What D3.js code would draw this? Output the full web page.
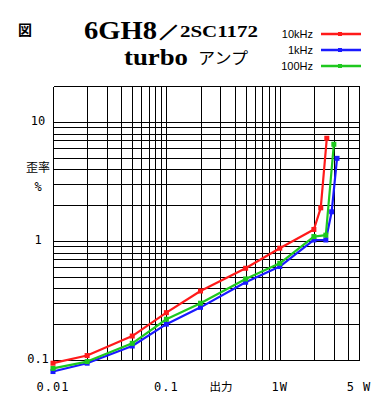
<!DOCTYPE html>
<html><head><meta charset="utf-8">
<script src="https://cdn.jsdelivr.net/npm/d3@7"></script>
<style>html,body{margin:0;padding:0;background:#fff;}svg{display:block;}</style>
</head><body>
<script>
// ---- data ----
const seriesNames = ["10kHz", "1kHz", "100Hz"];
const seriesColors = ["#ff1a1a", "#1a1aff", "#1ec81e"];
const x10k = [0.01, 0.02, 0.05, 0.1, 0.2, 0.5, 1, 2, 2.3, 2.6];
const y10k = [0.094, 0.109, 0.159, 0.25, 0.38, 0.59, 0.87, 1.25, 1.9, 7.3];
const x1k = [0.01, 0.02, 0.05, 0.1, 0.2, 0.5, 1, 2, 2.55, 2.87, 3.2];
const y1k = [0.08, 0.094, 0.131, 0.2, 0.277, 0.45, 0.61, 1.02, 1.02, 1.76, 4.95];
const x100 = [0.01, 0.02, 0.05, 0.1, 0.2, 0.5, 1, 2, 2.55, 3.0];
const y100 = [0.085, 0.097, 0.138, 0.22, 0.30, 0.48, 0.65, 1.09, 1.12, 6.5];
const xGrid = [0.01,0.02,0.03,0.04,0.05,0.06,0.07,0.08,0.09,0.1,0.2,0.3,0.4,0.5,0.6,0.7,0.8,0.9,1,2,3,4,5];
const yGrid = [0.1,0.2,0.3,0.4,0.5,0.6,0.7,0.8,0.9,1,2,3,4,5,6,7,8,9,10];
const xTickVals = [0.01, 0.1, 1, 5];
const xTickLabels = ["0.01", "0.1", "1W", "5 W"];
const yTickVals = [0.1, 1, 10];
const yTickLabels = ["0.1", "1", "10"];
const yTop = 20;

const W = 380, H = 400;
const svg = d3.select("body").append("svg").attr("width", W).attr("height", H);
const x = d3.scaleLog().domain([0.01, 5]).range([53, 359]);
const y = d3.scaleLog().domain([0.1, 10]).range([360, 122]);

// grid
const g = svg.append("g").attr("shape-rendering", "crispEdges").attr("stroke", "#000").attr("stroke-width", 1);
g.selectAll("line.v").data(xGrid).join("line")
  .attr("x1", d => Math.round(x(d)) + 0.5).attr("x2", d => Math.round(x(d)) + 0.5)
  .attr("y1", Math.round(y(yTop)) + 0.5).attr("y2", Math.round(y(0.1)) + 0.5);
g.selectAll("line.h").data(yGrid.concat([yTop])).join("line")
  .attr("y1", d => Math.round(y(d)) + 0.5).attr("y2", d => Math.round(y(d)) + 0.5)
  .attr("x1", Math.round(x(0.01)) + 0.5).attr("x2", Math.round(x(5)) + 0.5);

// series
const series = [
  {name: seriesNames[1], color: seriesColors[1], xs: x1k, ys: y1k},
  {name: seriesNames[2], color: seriesColors[2], xs: x100, ys: y100},
  {name: seriesNames[0], color: seriesColors[0], xs: x10k, ys: y10k}
];
const line = d3.line().x(d => x(d[0])).y(d => y(d[1]));
series.forEach(s => {
  const pts = s.xs.map((v, i) => [v, s.ys[i]]);
  svg.append("path").attr("d", line(pts)).attr("fill", "none")
    .attr("stroke", s.color).attr("stroke-width", 2.2).attr("stroke-linejoin", "round");
  svg.selectAll(null).data(pts).join("rect")
    .attr("x", d => x(d[0]) - 2.5).attr("y", d => y(d[1]) - 2.5)
    .attr("width", 5).attr("height", 5).attr("fill", s.color);
});

// axis labels
const mono = "'DejaVu Sans Mono', 'Liberation Mono', monospace";
svg.selectAll("text.xt").data(xTickVals).join("text")
  .attr("x", d => x(d)).attr("y", 391).attr("text-anchor", "middle")
  .attr("font-family", mono).attr("font-size", 12).attr("letter-spacing", 1)
  .text((d, i) => xTickLabels[i]);
svg.append("text").attr("x", 221).attr("y", 391).attr("text-anchor", "middle")
  .attr("font-family", "'Noto Sans CJK JP', sans-serif").attr("font-size", 11.5).text("出力");
svg.selectAll("text.yt").data(yTickVals).join("text")
  .attr("x", 38).attr("y", d => y(d) - 1).attr("dy", "0.35em").attr("text-anchor", "middle")
  .attr("font-family", mono).attr("font-size", 12)
  .text((d, i) => yTickLabels[i]);
svg.append("text").attr("x", 38).attr("y", 172).attr("text-anchor", "middle")
  .attr("font-family", "'Noto Sans CJK JP', sans-serif").attr("font-size", 12).text("歪率");
svg.append("text").attr("x", 38).attr("y", 191).attr("text-anchor", "middle")
  .attr("font-family", mono).attr("font-size", 12).text("%");

// title
svg.append("text").attr("x", 18).attr("y", 35)
  .attr("font-family", "'Noto Sans CJK JP', sans-serif").attr("font-weight", "bold").attr("font-size", 14).text("図");
svg.append("text").attr("x", 84).attr("y", 39).attr("textLength", 73).attr("lengthAdjust", "spacingAndGlyphs")
  .attr("font-family", "'Liberation Serif', serif").attr("font-weight", "bold").attr("font-size", 25).text("6GH8");
svg.append("text").attr("x", 159).attr("y", 37).attr("textLength", 99).attr("lengthAdjust", "spacingAndGlyphs")
  .attr("font-family", "'Liberation Serif', serif").attr("font-weight", "bold").attr("font-size", 17).text("／2SC1172");
svg.append("text").attr("x", 124).attr("y", 65).attr("textLength", 64).attr("lengthAdjust", "spacingAndGlyphs")
  .attr("font-family", "'Liberation Serif', serif").attr("font-weight", "bold").attr("font-size", 24).text("turbo");
svg.append("text").attr("x", 198).attr("y", 64).attr("textLength", 50).attr("lengthAdjust", "spacingAndGlyphs")
  .attr("font-family", "'Noto Sans CJK JP', sans-serif").attr("font-size", 16).text("アンプ");

// legend
const legY = [34, 50, 66];
const legend = svg.selectAll("g.leg").data(seriesNames).join("g");
legend.append("text").attr("x", 313).attr("y", (d, i) => legY[i]).attr("dy", "0.35em")
  .attr("text-anchor", "end").attr("font-family", "'Liberation Sans', Arial, sans-serif").attr("font-size", 11).text(d => d);
legend.append("line").attr("x1", 321).attr("x2", 361).attr("y1", (d, i) => legY[i]).attr("y2", (d, i) => legY[i])
  .attr("stroke", (d, i) => seriesColors[i]).attr("stroke-width", 2.5);
legend.append("rect").attr("x", 338).attr("y", (d, i) => legY[i] - 2).attr("width", 4).attr("height", 4)
  .attr("fill", (d, i) => seriesColors[i]);
</script>
</body></html>
